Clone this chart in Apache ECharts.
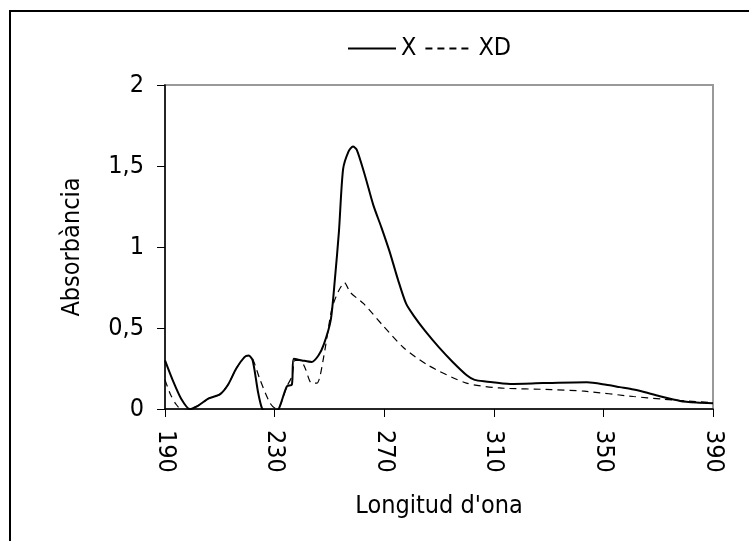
<!DOCTYPE html>
<html>
<head>
<meta charset="utf-8">
<script src="https://cdn.jsdelivr.net/npm/echarts@6/dist/echarts.min.js"></script>
<style>
  html, body { margin: 0; padding: 0; background: #fff; }
  #chart { width: 749px; height: 541px; }
</style>
</head>
<body>
<div id="chart"></div>
<script>
// spectrum X (solid)
const xWave = [190, 193, 196, 199, 202, 206, 210, 213, 216, 219, 220.5, 222, 224, 225.5, 227, 230, 231.5,
  234.5, 236.3, 237, 240, 243.5, 246, 248, 250.5, 252, 253.5, 255, 257, 258.6, 260, 263, 266, 269, 272,
  275, 278, 281, 285, 290, 295, 300, 303, 307, 316, 328, 344, 351, 356, 361, 366, 371, 378, 384, 390]
const xAbs = [0.30, 0.17, 0.06, 0.0, 0.02, 0.066, 0.09, 0.15, 0.25, 0.32, 0.33, 0.30, 0.10, 0.0, -0.01, -0.01, 0.0,
  0.14, 0.15, 0.31, 0.30, 0.29, 0.33, 0.40, 0.55, 0.80, 1.10, 1.48, 1.59, 1.62, 1.60, 1.44, 1.26, 1.12, 0.97,
  0.80, 0.65, 0.57, 0.48, 0.38, 0.29, 0.21, 0.18, 0.17, 0.155, 0.16, 0.165, 0.15, 0.135, 0.12, 0.10, 0.077, 0.05, 0.04, 0.035]

// spectrum XD (dashed)
const xdWave = [190, 192, 194, 196.5, 199, 202, 206, 210, 213, 216, 219, 220.5, 222, 224.7, 228.4, 230.8, 232,
  234.5, 236.3, 237.5, 239.5, 241.2, 243.5, 245.5, 247.9, 250.9, 253.4, 255.5, 257.6, 262.5, 269.8, 277,
  286, 300, 312, 331, 343, 361, 371, 380, 390]
const xdAbs = [0.18, 0.09, 0.03, -0.01, 0.0, 0.02, 0.066, 0.09, 0.15, 0.25, 0.32, 0.33, 0.31, 0.18, 0.035, 0.0, 0.02,
  0.14, 0.2, 0.30, 0.30, 0.25, 0.16, 0.16, 0.32, 0.62, 0.73, 0.78, 0.72, 0.65, 0.51, 0.38,
  0.27, 0.16, 0.13, 0.12, 0.11, 0.077, 0.062, 0.05, 0.04]

const seriesNames = ['X', 'XD']

const font = '"DejaVu Sans Condensed", "DejaVu Sans", sans-serif'

const chart = echarts.init(document.getElementById('chart'))

const option = {
  backgroundColor: '#fff',
  animation: false,
  graphic: [{
    type: 'rect',
    shape: { x: 10, y: 11, width: 800, height: 600 },
    style: { fill: 'none', stroke: '#000', lineWidth: 2 }
  }],
  legend: {
    left: 342,
    top: 31,
    itemWidth: 48,
    itemHeight: 14,
    itemGap: 8,
    itemStyle: { color: 'transparent', borderColor: 'transparent', borderWidth: 0 },
    textStyle: { fontFamily: font, fontSize: 25, color: '#000' },
    data: seriesNames
  },
  grid: {
    left: 165,
    top: 85,
    right: 36,
    bottom: 132,
    show: true,
    borderColor: '#999',
    borderWidth: 2
  },
  xAxis: {
    type: 'value',
    min: 190,
    max: 390,
    interval: 40,
    name: "Longitud d'ona",
    nameLocation: 'middle',
    nameGap: 85,
    nameTextStyle: { fontFamily: font, fontSize: 25, color: '#000' },
    axisLine: { lineStyle: { color: '#000', width: 1.5 } },
    axisTick: { inside: false, length: 8, lineStyle: { color: '#000' } },
    splitLine: { show: false },
    axisLabel: { rotate: -90, margin: 21, fontFamily: font, fontSize: 25, color: '#000' }
  },
  yAxis: {
    type: 'value',
    min: 0,
    max: 2,
    interval: 0.5,
    name: 'Absorbància',
    nameLocation: 'middle',
    nameGap: 80,
    nameTextStyle: { fontFamily: font, fontSize: 25, color: '#000' },
    axisLine: { show: true, lineStyle: { color: '#000', width: 1.5 } },
    axisTick: { show: true, length: 8, lineStyle: { color: '#000' } },
    splitLine: { show: false },
    axisLabel: {
      margin: 21,
      fontFamily: font,
      fontSize: 25,
      color: '#000',
      formatter: v => String(v).replace('.', ',')
    }
  },
  series: [
    {
      name: seriesNames[0],
      type: 'line',
      data: xWave.map((w, i) => [w, xAbs[i]]),
      symbol: 'none',
      smooth: 0.25,
      lineStyle: { color: '#000', width: 2 },
      itemStyle: { color: '#000' }
    },
    {
      name: seriesNames[1],
      type: 'line',
      data: xdWave.map((w, i) => [w, xdAbs[i]]),
      symbol: 'none',
      smooth: 0.25,
      lineStyle: { color: '#000', width: 1.2, type: [7, 5] },
      itemStyle: { color: '#000' }
    }
  ]
}

chart.setOption(option)
</script>
</body>
</html>
